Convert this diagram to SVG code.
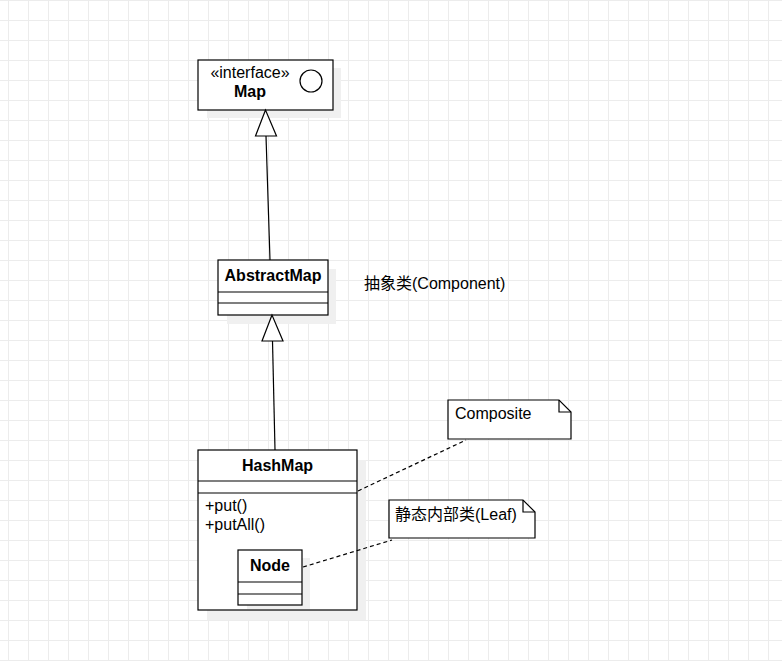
<svg xmlns="http://www.w3.org/2000/svg" width="782" height="661" viewBox="0 0 782 661">
<defs>
<pattern id="grid" patternUnits="userSpaceOnUse" x="0" y="0" width="20" height="20">
<path d="M8.5 0V20M0 0.5H20" stroke="#ececec" stroke-width="1" fill="none"/>
</pattern>
</defs>
<style>
.box{fill:#fff;stroke:#000;stroke-width:1.2}
.shadow{fill:#f0f0f0;stroke:none}
.div{stroke:#000;stroke-width:1.2;fill:none}
.t{font-family:"Liberation Sans","Noto Sans CJK SC",sans-serif;font-size:16px;fill:#000}
.b{font-weight:bold}
.edge{stroke:#000;stroke-width:1.2;fill:none}
.tri{fill:#fff;stroke:#000;stroke-width:1.2}
.dash{stroke:#000;stroke-width:1.2;fill:none;stroke-dasharray:4 3}
.note{fill:#fff;stroke:#000;stroke-width:1.2}
</style>
<rect width="782" height="661" fill="#fff"/>
<rect width="782" height="661" fill="url(#grid)"/>

<g id="map">
<rect class="shadow" x="207" y="68" width="134" height="50"/>
<rect class="box" x="198" y="60" width="135" height="50"/>
<circle cx="311" cy="81" r="11" fill="#fff" stroke="#000" stroke-width="1.2"/>
<text class="t" x="250" y="78" text-anchor="middle">«interface»</text>
<text class="t b" x="250" y="97" text-anchor="middle">Map</text>
</g>

<g id="abstractmap">
<rect class="shadow" x="227" y="269" width="109" height="55"/>
<rect class="box" x="218" y="260" width="110" height="55"/>
<path class="div" d="M218 292H328M218 303H328"/>
<text class="t b" x="273" y="281" text-anchor="middle">AbstractMap</text>
</g>

<g id="label-component">
<text class="t" x="364" y="289">抽象类(Component)</text>
</g>

<g id="hashmap">
<rect class="shadow" x="207" y="460" width="159" height="160"/>
<rect class="box" x="198" y="450" width="159" height="160"/>
<path class="div" d="M198 481H357M198 493H357"/>
<text class="t b" x="277.5" y="471" text-anchor="middle">HashMap</text>
<text class="t" x="205" y="511">+put()</text>
<text class="t" x="205" y="530">+putAll()</text>
</g>

<g id="node">
<rect class="shadow" x="247" y="558" width="63" height="51"/>
<rect class="box" x="238" y="550" width="64" height="55"/>
<path class="div" d="M238 582H302M238 594H302"/>
<text class="t b" x="270" y="571" text-anchor="middle">Node</text>
</g>

<g id="note-composite">
<path class="note" d="M448 400H559L571 412V439H448Z"/>
<path class="div" d="M559 400V412H571"/>
<text class="t" x="455" y="419">Composite</text>
</g>

<g id="note-leaf">
<path class="note" d="M389 500H523L535 512V538H389Z"/>
<path class="div" d="M523 500V512H535"/>
<text class="t" x="395" y="520">静态内部类(Leaf)</text>
</g>

<g id="connectors">
<path class="edge" d="M266 136L270 260"/>
<path class="tri" d="M265.5 110L255.5 136L276.5 136Z"/>
<path class="edge" d="M272.5 341L275 450"/>
<path class="tri" d="M272 315L262 341L283 341Z"/>
<path class="dash" d="M358 491L466 440"/>
<path class="dash" d="M303 567L392 540"/>
</g>
</svg>
